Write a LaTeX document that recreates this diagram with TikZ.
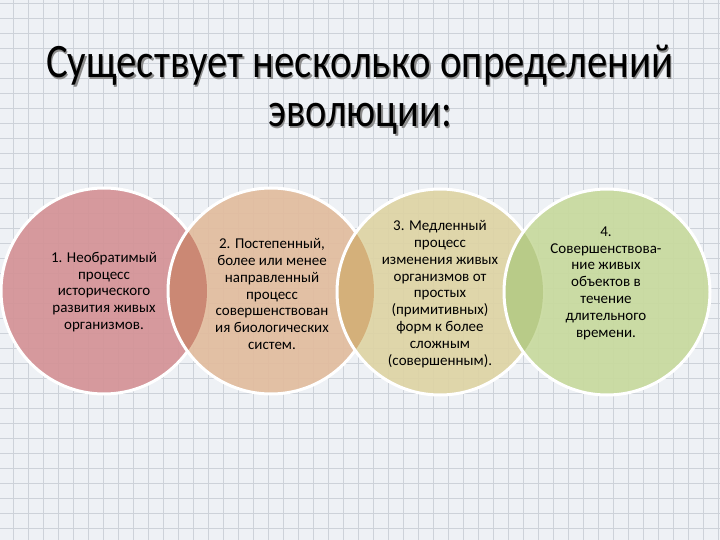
\documentclass[tikz,border=0pt]{standalone}
\usepackage{fontspec}
\setmainfont{Carlito}
\usepackage{graphicx}

\definecolor{paper}{HTML}{EEF1F5}
\definecolor{gridln}{HTML}{CDD2D9}
\definecolor{rose}{RGB}{212,146,150}
\definecolor{peach}{RGB}{226,188,158}
\definecolor{khaki}{RGB}{222,212,164}
\definecolor{sage}{RGB}{200,218,158}
\definecolor{lensA}{RGB}{203,136,116}
\definecolor{lensB}{RGB}{212,176,122}
\definecolor{lensC}{RGB}{184,203,136}

\tikzset{
  gridline/.style={draw=gridln, line width=0.6pt},
  rim/.style={draw=white, line width=3pt},
  lbl/.style={align=center, inner sep=0pt, font=\fontsize{15}{16.8}\selectfont},
  ttl/.style={anchor=base west, inner sep=0pt, font=\fontsize{48}{48}\selectfont},
  ttlshadow/.style={ttl, text=black!45},
}

\begin{document}
\begin{tikzpicture}[x=1pt, y=-1pt]
	\useasboundingbox (0,0) rectangle (720,540);
	
	% Graph paper background
	\fill[paper] (0,0) rectangle (720,540);
	\foreach \x in {13,28,...,718} \draw[gridline] (\x,0) -- (\x,540);
	\foreach \y in {3,18,...,538} \draw[gridline] (0,\y) -- (720,\y);
	
	% Title
	\node[ttlshadow] (ttlA0) at (47.5,79.5) {\resizebox{627pt}{\height}{Существует несколько определений}};
	\node[ttl] (ttlA) at (46,78) {\resizebox{627pt}{\height}{Существует несколько определений}};
	\node[ttlshadow] (ttlB0) at (269.5,128.5) {\resizebox{184pt}{\height}{эволюции:}};
	\node[ttl] (ttlB) at (268,127) {\resizebox{184pt}{\height}{эволюции:}};
	
	% Circle centres
	\def\rad{103pt}
	\coordinate (o1) at (104,291);
	\coordinate (o2) at (271,291);
	\coordinate (o3) at (440,292);
	\coordinate (o4) at (607,292);
	
	% Circle 1
	\fill[rose, fill opacity=0.92] (o1) circle (\rad);
	\draw[rim] (o1) circle (\rad);
	
	% Circle 2 and its overlap with circle 1
	\fill[peach, fill opacity=0.92] (o2) circle (\rad);
	\begin{scope}
		\clip (o1) circle (\rad);
		\fill[lensA] (o2) circle (\rad);
	\end{scope}
	\draw[rim] (o2) circle (\rad);
	
	% Circle 3 and its overlap with circle 2
	\fill[khaki, fill opacity=0.92] (o3) circle (\rad);
	\begin{scope}
		\clip (o2) circle (\rad);
		\fill[lensB] (o3) circle (\rad);
	\end{scope}
	\draw[rim] (o3) circle (\rad);
	
	% Circle 4 and its overlap with circle 3
	\fill[sage, fill opacity=0.92] (o4) circle (\rad);
	\begin{scope}
		\clip (o3) circle (\rad);
		\fill[lensC] (o4) circle (\rad);
	\end{scope}
	\draw[rim] (o4) circle (\rad);
	
	% Definitions
	\node[lbl] (d1) at (104,292) {1. Необратимый\\процесс\\исторического\\развития живых\\организмов.};
	\node[lbl] (d2) at (272,294) {2. Постепенный,\\более или менее\\направленный\\процесс\\совершенствован\\ия биологических\\систем.};
	\node[lbl] (d3) at (440,294) {3. Медленный\\процесс\\изменения живых\\организмов от\\простых\\(примитивных)\\форм к более\\сложным\\(совершенным).};
	\node[lbl] (d4) at (606,283) {4.\\Совершенствова-\\ние живых\\объектов в\\течение\\длительного\\времени.};
\end{tikzpicture}
\end{document}
